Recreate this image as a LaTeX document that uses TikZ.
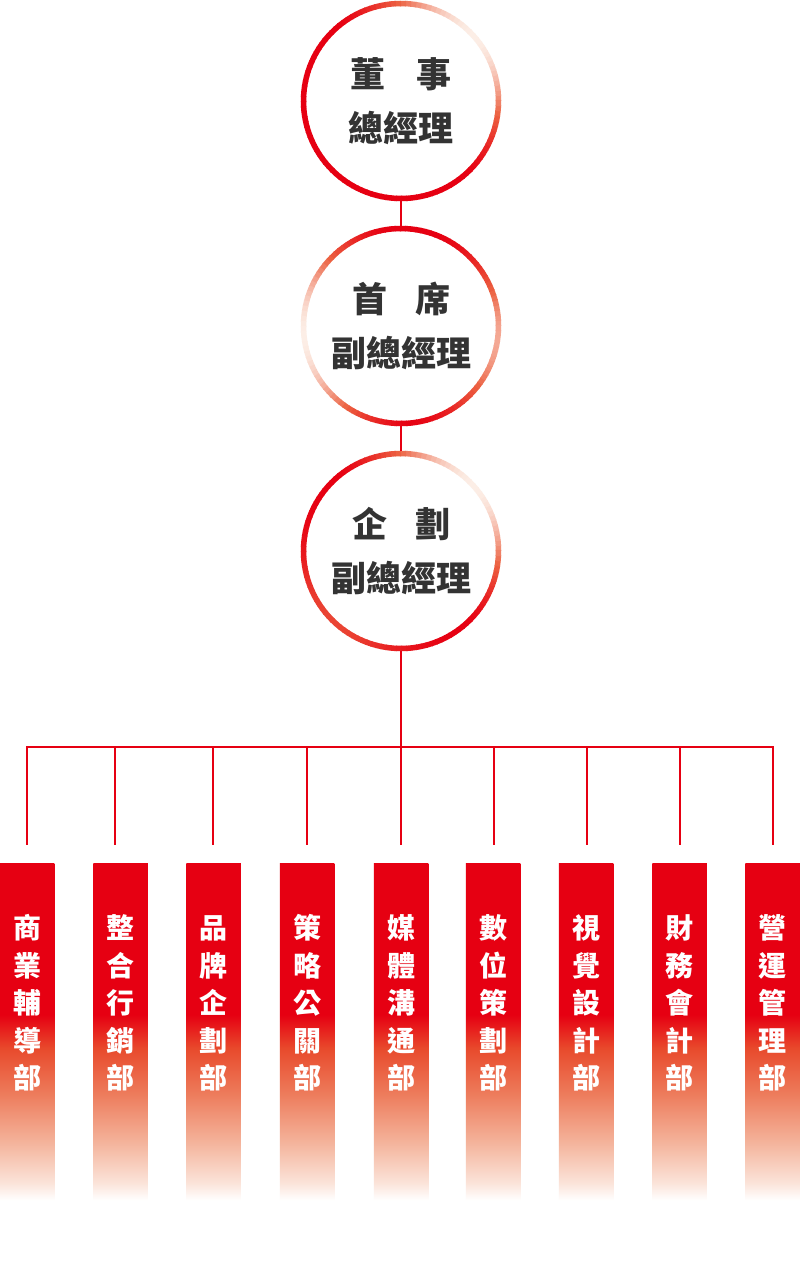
\documentclass[tikz,border=0pt]{standalone}
\usepackage{fontspec}
\setmainfont{Noto Sans CJK TC}
\usetikzlibrary{calc}
\definecolor{brandred}{HTML}{E60012}
\definecolor{ringmid}{HTML}{EC6242}
\definecolor{ringlight}{HTML}{FCEEE6}
\definecolor{fadeB}{HTML}{E84A2C}
\definecolor{fadeC}{HTML}{ED7A5A}
\definecolor{fadeD}{HTML}{F4B49C}
\definecolor{fadeE}{HTML}{FBE4DA}
\definecolor{darktext}{HTML}{333333}
\pgfdeclareverticalshading{barfade}{100bp}{color(0bp)=(white); color(25bp)=(white); color(27.5bp)=(fadeE); color(33.5bp)=(fadeD); color(41bp)=(fadeC); color(47.5bp)=(fadeB); color(52.5bp)=(brandred); color(100bp)=(brandred)}
\newcommand\gradring[2]{%
  \foreach \a in {0,3,...,357}{%
    \pgfmathsetmacro\ringt{min(1,max(0,#2))}%
    \pgfmathsetmacro\ringqa{min(1,2*\ringt)*100}%
    \pgfmathsetmacro\ringqb{max(0,2*\ringt-1)*100}%
    \colorlet{segA}{ringmid!\ringqa!brandred}%
    \colorlet{segB}{ringlight!\ringqb!segA}%
    \draw[line width=5.5pt, segB] ($(#1.center)+(\a:97.5pt)$) arc[start angle=\a, end angle=\a+3.6, radius=97.5pt];
  }}
\begin{document}
\begin{tikzpicture}[x=1pt,y=1pt,
  ringnode/.style={circle, minimum size=200pt, inner sep=0pt, align=center,
    text=darktext, font=\fontsize{35}{54}\selectfont\bfseries},
  deptbar/.style={rectangle, inner sep=0pt, minimum width=54.5pt, align=center,
    shading=barfade, shade, text=white, font=\fontsize{28}{37.5}\selectfont\bfseries,
    text height=225.6pt, text depth=111.4pt, anchor=north},
  conn/.style={draw=brandred, line width=2.2pt}]
\useasboundingbox (0,0) rectangle (800,-1267);
\fill[white] (0,0) rectangle (800,-1267);
% circles
\node[ringnode] (c1) at (401,-101) {董\hspace{0.9em}事\\總經理};
\node[ringnode] (c2) at (401,-326) {首\hspace{0.8em}席\\副總經理};
\node[ringnode] (c3) at (401,-551) {企\hspace{0.8em}劃\\副總經理};
\gradring{c1}{pow(max(0.001,cos(\a-40)),1.6)}
\gradring{c2}{max(pow(max(0.001,cos(\a-185)),1.6),0.75*pow(max(0.001,cos(\a+10)),3))}
\gradring{c3}{max(pow(max(0.001,cos(\a-40)),1.6),0.35*pow(max(0.001,cos(\a-225)),3))}
% bars
\node[deptbar] (b1) at (27,-863) {商\\業\\輔\\導\\部};
\node[deptbar] (b2) at (120.5,-863) {整\\合\\行\\銷\\部};
\node[deptbar] (b3) at (213.5,-863) {品\\牌\\企\\劃\\部};
\node[deptbar] (b4) at (307,-863) {策\\略\\公\\關\\部};
\node[deptbar] (b5) at (401,-863) {媒\\體\\溝\\通\\部};
\node[deptbar] (b6) at (493,-863) {數\\位\\策\\劃\\部};
\node[deptbar] (b7) at (586,-863) {視\\覺\\設\\計\\部};
\node[deptbar] (b8) at (679.5,-863) {財\\務\\會\\計\\部};
\node[deptbar] (b9) at (772.5,-863) {營\\運\\管\\理\\部};
% junctions
\foreach \i/\x in {1/27,2/115,3/213,4/307,5/401,6/494,7/587,8/680,9/773}{
  \coordinate (j\i) at (\x,-747);
  \coordinate (d\i) at (\x,-845);
}
% connectors
\draw[conn] (c1.south) -- (c2.north);
\draw[conn] (c2.south) -- (c3.north);
\draw[conn] (c3.south) -- (j5);
\draw[conn, line cap=rect] (j1) -- (j9);
\foreach \i in {1,...,9}{\draw[conn] (j\i) -- (d\i);}
\end{tikzpicture}
\end{document}
